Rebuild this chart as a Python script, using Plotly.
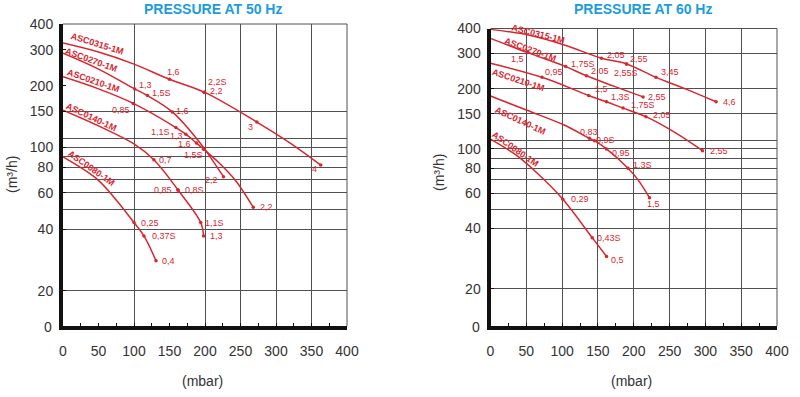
import math
import plotly.graph_objects as go

# ---------------- data (pressure in mbar, flow in m3/h) ----------------
PRESSURE_TICKS = [0, 50, 100, 150, 200, 250, 300, 350, 400]
PRESSURE_SMALL_TICKS = [25, 75, 125, 175, 225, 275, 325, 375]
FLOW_TICKS = [20, 40, 60, 80, 100, 150, 200, 300, 400]
FLOW_GRID_50 = [20, 40, 50, 60, 70, 80, 90, 100, 110, 150]
FLOW_GRID_60 = [20, 40, 50, 60, 70, 80, 90, 100, 110, 150, 200, 300]
PRESSURE_GRID_50 = [100, 200, 250, 300, 350]
PRESSURE_GRID_60 = [50, 100, 150, 200, 250, 300, 350]

MODELS = ["ASC0315-1M", "ASC0270-1M", "ASC0210-1M", "ASC0140-1M", "ASC0080-1M"]
TITLES = ["PRESSURE AT 50 Hz", "PRESSURE AT 60 Hz"]

# 50 Hz curves
P50_ASC0315 = [0, 50, 100, 150, 199, 273, 320, 363]
Q50_ASC0315 = [323, 292, 255, 215, 186, 133, 105, 82]
P50_ASC0270 = [0, 50, 101, 119, 154, 198, 212, 226]
Q50_ASC0270 = [288, 241, 193, 179, 149, 100, 85, 72]
P50_ASC0210 = [0, 50, 99, 159, 173, 188, 198, 220, 243, 268]
Q50_ASC0210 = [221, 193, 164, 125, 116, 105, 98, 84, 69, 51]
P50_ASC0140 = [0, 53, 100, 128, 162, 194, 198]
Q50_ASC0140 = [152, 126, 104, 87, 62, 43, 37]
P50_ASC0080 = [0, 46, 72, 100, 114, 131]
Q50_ASC0080 = [90, 71, 57, 43, 37, 28]

# 50 Hz marked points (motor power labels)
MP50_ASC0315 = [150, 199, 199, 273, 363]
MQ50_ASC0315 = [215, 186, 186, 133, 82]
ML50_ASC0315 = ["1,6", "2,2S", "2,2", "3", "4"]
MP50_ASC0270 = [101, 119, 154, 226]
MQ50_ASC0270 = [193, 179, 149, 72]
ML50_ASC0270 = ["1,3", "1,5S", "1,6", "2,2"]
MP50_ASC0210 = [99, 159, 173, 188, 198, 268]
MQ50_ASC0210 = [164, 125, 116, 105, 98, 51]
ML50_ASC0210 = ["0,85", "1,1S", "1,3", "1,6", "1,5S", "2,2"]
MP50_ASC0140 = [128, 162, 162, 194, 198]
MQ50_ASC0140 = [87, 62, 62, 43, 37]
ML50_ASC0140 = ["0,7", "0,85", "0,8S", "1,1S", "1,3"]
MP50_ASC0080 = [100, 114, 131]
MQ50_ASC0080 = [43, 37, 28]
ML50_ASC0080 = ["0,25", "0,37S", "0,4"]

# 60 Hz curves
P60_ASC0315 = [0, 53, 103, 155, 190, 231, 273, 315]
Q60_ASC0315 = [396, 371, 331, 284, 266, 228, 199, 172]
P60_ASC0270 = [0, 52, 105, 134, 172, 213]
Q60_ASC0270 = [357, 303, 258, 232, 206, 182]
P60_ASC0210 = [0, 72, 137, 162, 185, 217, 259, 296]
Q60_ASC0210 = [268, 228, 185, 172, 160, 145, 120, 98]
P60_ASC0140 = [0, 51, 102, 138, 145, 162, 192, 206, 222]
Q60_ASC0140 = [184, 156, 132, 113, 110, 100, 80, 70, 57]
P60_ASC0080 = [0, 36, 68, 101, 142, 162]
Q60_ASC0080 = [112, 93, 74, 56, 36, 29]

# 60 Hz marked points
MP60_ASC0315 = [155, 190, 190, 231, 315]
MQ60_ASC0315 = [284, 266, 266, 228, 172]
ML60_ASC0315 = ["2,05", "2,55", "2,55S", "3,45", "4,6"]
MP60_ASC0270 = [52, 105, 134, 213]
MQ60_ASC0270 = [303, 258, 232, 182]
ML60_ASC0270 = ["1,5", "1,75S", "2,05", "2,55"]
MP60_ASC0210 = [72, 137, 162, 185, 217, 296]
MQ60_ASC0210 = [228, 185, 172, 160, 145, 98]
ML60_ASC0210 = ["0,95", "1,5", "1,3S", "1,75S", "2,05", "2,55"]
MP60_ASC0140 = [138, 145, 162, 192, 222]
MQ60_ASC0140 = [113, 110, 100, 80, 57]
ML60_ASC0140 = ["0,83", "0,9S", "0,95", "1,3S", "1,5"]
MP60_ASC0080 = [101, 142, 162]
MQ60_ASC0080 = [56, 36, 29]
ML60_ASC0080 = ["0,29", "0,43S", "0,5"]

CURVES = {
    50: {
        "ASC0315-1M": (P50_ASC0315, Q50_ASC0315, MP50_ASC0315, MQ50_ASC0315, ML50_ASC0315),
        "ASC0270-1M": (P50_ASC0270, Q50_ASC0270, MP50_ASC0270, MQ50_ASC0270, ML50_ASC0270),
        "ASC0210-1M": (P50_ASC0210, Q50_ASC0210, MP50_ASC0210, MQ50_ASC0210, ML50_ASC0210),
        "ASC0140-1M": (P50_ASC0140, Q50_ASC0140, MP50_ASC0140, MQ50_ASC0140, ML50_ASC0140),
        "ASC0080-1M": (P50_ASC0080, Q50_ASC0080, MP50_ASC0080, MQ50_ASC0080, ML50_ASC0080),
    },
    60: {
        "ASC0315-1M": (P60_ASC0315, Q60_ASC0315, MP60_ASC0315, MQ60_ASC0315, ML60_ASC0315),
        "ASC0270-1M": (P60_ASC0270, Q60_ASC0270, MP60_ASC0270, MQ60_ASC0270, ML60_ASC0270),
        "ASC0210-1M": (P60_ASC0210, Q60_ASC0210, MP60_ASC0210, MQ60_ASC0210, ML60_ASC0210),
        "ASC0140-1M": (P60_ASC0140, Q60_ASC0140, MP60_ASC0140, MQ60_ASC0140, ML60_ASC0140),
        "ASC0080-1M": (P60_ASC0080, Q60_ASC0080, MP60_ASC0080, MQ60_ASC0080, ML60_ASC0080),
    },
}

# ---------------- styling / placement ----------------
# label placement per marked point: (anchor, dx px, dy px downward)
LABEL_STYLE = {
    50: {
        "ASC0315-1M": [("center", 4, -7), ("left", 2, -10), ("left", 4, -1.5), ("right", -2, 5), ("right", -2, 4)],
        "ASC0270-1M": [("left", 2, -4), ("left", 3, -2.5), ("left", 2, -1), ("right", -3, 3)],
        "ASC0210-1M": [("right", -1, 7), ("right", -4, 4), ("right", -1, 2), ("right", -3, 0.5), ("right", 1, 5.5), ("left", 5, 0)],
        "ASC0140-1M": [("left", 3, 0), ("right", -4, 0), ("left", 5, 0), ("left", 2, 0), ("left", 4, 0)],
        "ASC0080-1M": [("left", 5, 0), ("left", 6, 0), ("left", 4, 0)],
    },
    60: {
        "ASC0315-1M": [("left", 3, -3.5), ("left", 1, -4.5), ("center", -1, 9.5), ("left", 3, -5), ("left", 5, 0)],
        "ASC0270-1M": [("right", -2, 6.5), ("left", 3, -3), ("left", 3, -4.5), ("left", 3, 0)],
        "ASC0210-1M": [("left", 1, -5), ("left", 4, -6.5), ("left", 2, -4.5), ("left", 6, -3), ("left", 5, -1.5), ("left", 5, 0)],
        "ASC0140-1M": [("center", 0, -6.5), ("left", 0, -1), ("left", 3, 4), ("left", 3, -3.5), ("center", 4, 6.5)],
        "ASC0080-1M": [("left", 6, 0), ("left", 3, 0), ("left", 2, 4)],
    },
}
# model name placement: (x in axis-domain fraction, y in axis-domain fraction, angle)
MODEL_LABEL_POS = {
    50: {"ASC0315-1M": (0.123, 0.934, 17), "ASC0270-1M": (0.099, 0.881, 20),
         "ASC0210-1M": (0.109, 0.811, 19), "ASC0140-1M": (0.099, 0.692, 25),
         "ASC0080-1M": (0.099, 0.523, 35)},
    60: {"ASC0315-1M": (0.166, 0.983, 14), "ASC0270-1M": (0.141, 0.928, 20),
         "ASC0210-1M": (0.096, 0.827, 18), "ASC0140-1M": (0.106, 0.689, 25),
         "ASC0080-1M": (0.086, 0.595, 35)},
}

W, H = 800, 397
RED = "#d8262f"
GRID = "#505050"
AXIS = "#111111"
TICKC = "#333333"
BLUE = "#1b9ddb"
FONT = "Liberation Sans, Arial, sans-serif"

# panel geometry in pixels: left, right, top, bottom, px per decade
PANELS = {50: dict(l=63, r=347, t=24, b=326, s=205, ax="x", ay="y"),
          60: dict(l=490.5, r=777, t=28.5, b=326, s=200, ax="x2", ay="y2")}

fig = go.Figure()
annotations = []
shapes = []
layout_axes = {}

for i, freq in enumerate([50, 60]):
    g = PANELS[freq]
    xa, ya = g["ax"], g["ay"]
    xname = "xaxis" if xa == "x" else "xaxis2"
    yname = "yaxis" if ya == "y" else "yaxis2"
    top_log = math.log10(400)
    bot_log = top_log - (g["b"] - g["t"]) / g["s"]
    pgrid = PRESSURE_GRID_50 if freq == 50 else PRESSURE_GRID_60
    fgrid = FLOW_GRID_50 if freq == 50 else FLOW_GRID_60

    xt = sorted(PRESSURE_TICKS + PRESSURE_SMALL_TICKS)
    layout_axes[xname] = dict(
        domain=[g["l"] / W, g["r"] / W], range=[0, 400], anchor=ya,
        automargin=False,
        tickmode="array", tickvals=xt,
        ticktext=[str(v) if v in PRESSURE_TICKS else "" for v in xt],
        ticks="inside", ticklen=3, tickwidth=1, tickcolor=AXIS,
        showgrid=False, zeroline=False,
        showline=True, linewidth=4, linecolor=AXIS,
        tickfont=dict(family=FONT, size=14, color=TICKC),
        ticklabelstandoff=9,
        minor=dict(tickmode="array", tickvals=pgrid, showgrid=True,
                   gridcolor=GRID, gridwidth=1, ticks=""),
        fixedrange=True,
    )
    layout_axes[yname] = dict(
        domain=[1 - g["b"] / H, 1 - g["t"] / H], type="log",
        range=[bot_log, top_log], anchor=xa,
        automargin=False,
        tickmode="array", tickvals=FLOW_TICKS,
        ticktext=[str(v) for v in FLOW_TICKS],
        ticks="inside", ticklen=3, tickwidth=1, tickcolor=AXIS,
        showgrid=False, zeroline=False,
        showline=True, linewidth=4, linecolor=AXIS,
        tickfont=dict(family=FONT, size=14, color=TICKC),
        ticklabelstandoff=3,
        minor=dict(tickmode="array", tickvals=fgrid, showgrid=True,
                   gridcolor=GRID, gridwidth=1, ticks=""),
        fixedrange=True,
    )
    # top & right frame lines (400 m3/h and 400 mbar)
    shapes.append(dict(type="line", xref=f"{xa} domain", yref=f"{ya} domain",
                       x0=0, x1=1, y0=1, y1=1, line=dict(color=GRID, width=1)))
    shapes.append(dict(type="line", xref=f"{xa} domain", yref=f"{ya} domain",
                       x0=1, x1=1, y0=0, y1=1, line=dict(color=GRID, width=1)))
    # "0" at the origin of the flow axis
    annotations.append(dict(text="0", xref=xa, yref=f"{ya} domain", x=0, y=0,
                            xanchor="right", yanchor="middle", xshift=-9, yshift=-1,
                            showarrow=False, font=dict(family=FONT, size=14, color=TICKC)))
    # titles
    cx = {50: 213.5, 60: 643}[freq]
    annotations.append(dict(text=f"<b>{TITLES[i]}</b>", xref="paper", yref="paper",
                            x=cx / W, y=1 - 8.5 / H, xanchor="center", yanchor="middle",
                            showarrow=False, font=dict(family=FONT, size=14, color=BLUE)))
    ytx = {50: (12, 175), 60: (439, 172)}[freq]
    annotations.append(dict(text="(m³/h)", xref="paper", yref="paper",
                            x=ytx[0] / W, y=1 - ytx[1] / H, xanchor="center", yanchor="middle",
                            textangle=-90, showarrow=False,
                            font=dict(family=FONT, size=14, color=TICKC)))
    xtx = {50: 202, 60: 631}[freq]
    annotations.append(dict(text="(mbar)", xref="paper", yref="paper",
                            x=xtx / W, y=1 - 381 / H, xanchor="center", yanchor="middle",
                            showarrow=False, font=dict(family=FONT, size=14, color=TICKC)))

    for model in MODELS:
        P, Q, MP, MQ, ML = CURVES[freq][model]
        fig.add_trace(go.Scatter(
            x=P, y=Q, mode="lines", xaxis=xa, yaxis=ya,
            line=dict(color=RED, width=1.5, shape="spline", smoothing=1.0),
            hoverinfo="skip", showlegend=False))
        fig.add_trace(go.Scatter(
            x=MP, y=MQ, mode="markers", xaxis=xa, yaxis=ya,
            marker=dict(color=RED, size=3.5), hoverinfo="skip", showlegend=False))
        for (p, q, lab), (anc, dx, dy) in zip(zip(MP, MQ, ML), LABEL_STYLE[freq][model]):
            annotations.append(dict(text=lab, xref=xa, yref=ya, x=p, y=math.log10(q),
                                    xanchor=anc, yanchor="middle", xshift=dx, yshift=-dy,
                                    showarrow=False,
                                    font=dict(family=FONT, size=9, color=RED)))
        mx, my, ang = MODEL_LABEL_POS[freq][model]
        annotations.append(dict(text=f"<b>{model}</b>", xref=f"{xa} domain", yref=f"{ya} domain",
                                x=mx, y=my, xanchor="center", yanchor="middle",
                                textangle=ang, showarrow=False,
                                font=dict(family=FONT, size=9, color=RED)))

fig.update_layout(
    width=W, height=H, margin=dict(l=0, r=0, t=0, b=0),
    paper_bgcolor="white", plot_bgcolor="white",
    showlegend=False, annotations=annotations, shapes=shapes,
    **layout_axes,
)
fig.write_html("out.html", config={"displayModeBar": False},
               post_script="document.body.style.margin='0px';")
